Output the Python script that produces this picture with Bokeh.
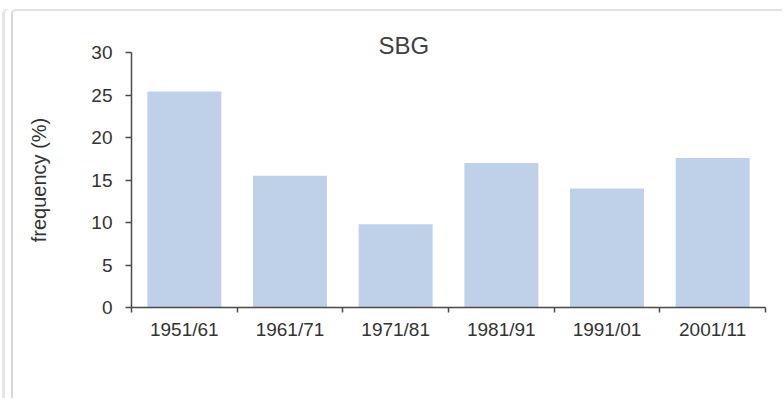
from bokeh.plotting import figure
from bokeh.models import Range1d, FixedTicker
from bokeh.embed import file_html
from bokeh.resources import INLINE

categories = ["1951/61", "1961/71", "1971/81", "1981/91", "1991/01", "2001/11"]
frequency = [25.4, 15.5, 9.8, 17.0, 14.0, 17.6]
y_ticks = [0, 5, 10, 15, 20, 25, 30]
title_text = "SBG"
y_label = "frequency (%)"

FONT = "Liberation Sans"
TXT = "#333333"
AX = "#4a4a4a"

x_pos = [i + 0.5 for i in range(len(categories))]

p = figure(width=771, height=389, output_backend="svg", toolbar_location=None,
           x_range=Range1d(0, len(categories)), y_range=Range1d(0, 30),
           min_border_left=118, min_border_right=19, min_border_top=41, min_border_bottom=93,
           margin=(9, 0, 0, 11), title=title_text)
p.styles = {"border-top": "2px solid #e2e2e2", "border-left": "2px solid #d8d8d8",
            "border-top-left-radius": "5px",
            "box-shadow": "-6px 0 0 0 #ffffff, -9px 0 0 0 #e6e6e6"}

p.title.align = "left"
p.title.offset = 247
p.title.standoff = -12
p.title.text_font = FONT
p.title.text_font_size = "24px"
p.title.text_font_style = "normal"
p.title.text_color = "#404040"

p.vbar(x=x_pos, top=frequency, width=0.70, color="#bfd1e8", line_color=None)

p.outline_line_color = None
p.grid.grid_line_color = None

xa = p.xaxis[0]
xa.ticker = FixedTicker(ticks=x_pos, minor_ticks=list(range(len(categories) + 1)))
xa.major_label_overrides = {x: c for x, c in zip(x_pos, categories)}
xa.major_tick_line_color = None
xa.major_tick_out = 5
xa.major_tick_in = 0
xa.minor_tick_out = 5
xa.minor_tick_in = 0
xa.minor_tick_line_color = AX
xa.minor_tick_line_width = 1.5
xa.axis_line_color = AX
xa.axis_line_width = 1.5
xa.major_label_standoff = 6
xa.major_label_text_font = FONT
xa.major_label_text_font_size = "19px"
xa.major_label_text_color = TXT

ya = p.yaxis[0]
ya.ticker = FixedTicker(ticks=y_ticks)
ya.minor_tick_line_color = None
ya.major_tick_out = 6
ya.major_tick_in = 0
ya.major_tick_line_color = AX
ya.major_tick_line_width = 1.5
ya.axis_line_color = AX
ya.axis_line_width = 1.5
ya.major_label_standoff = 13
ya.major_label_text_font = FONT
ya.major_label_text_font_size = "19px"
ya.major_label_text_color = TXT
ya.axis_label = y_label
ya.axis_label_text_font = FONT
ya.axis_label_text_font_size = "20px"
ya.axis_label_text_font_style = "normal"
ya.axis_label_text_color = TXT
ya.axis_label_standoff = 38

open("out.html", "w").write(file_html(p, INLINE))
